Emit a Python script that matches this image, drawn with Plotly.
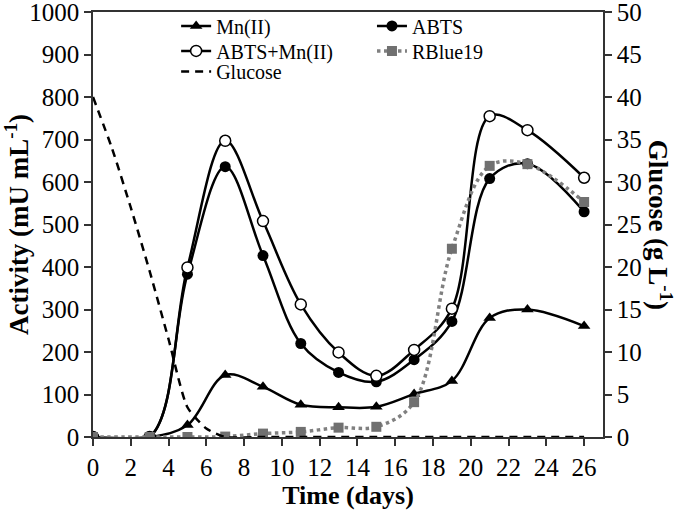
import plotly.graph_objects as go

days = [0, 3, 5, 7, 9, 11, 13, 15, 17, 19, 21, 23, 26]
mn = [0, 0, 28, 146, 118, 76, 70, 71, 101, 132, 280, 300, 261]
abts = [0, 0, 383, 636, 427, 220, 152, 130, 182, 272, 608, 643, 530]
abts_mn = [0, 0, 399, 697, 508, 312, 199, 144, 205, 302, 755, 722, 610]
rblue = [0, 0, 0, 1, 8, 12, 22, 24, 82, 443, 638, 642, 553]

glu_days = [0, 1, 2, 3, 4, 5, 6, 7, 9, 11, 13, 15, 17, 19, 21, 23, 26]
glucose = [40, 34, 27, 19.5, 11.5, 3.5, 1, 0, 0, 0, 0, 0, 0, 0, 0, 0, 0]

x_ticks = list(range(0, 27, 2))

FONT = "Liberation Serif"
fig = go.Figure()

fig.add_trace(go.Scatter(
    x=glu_days, y=glucose, name="Glucose", yaxis="y2", mode="lines",
    line=dict(color="black", width=2.5, dash="8px,6px", shape="spline", smoothing=0.6),
    legend="legend5"))
fig.add_trace(go.Scatter(
    x=days, y=mn, name="Mn(II)", mode="lines+markers",
    line=dict(color="black", width=2.5, shape="spline", smoothing=1),
    marker=dict(symbol="triangle-up", size=11, color="black"),
    legend="legend"))
fig.add_trace(go.Scatter(
    x=days, y=abts, name="ABTS", mode="lines+markers",
    line=dict(color="black", width=2.5, shape="spline", smoothing=1),
    marker=dict(symbol="circle", size=11, color="black"),
    legend="legend2"))
fig.add_trace(go.Scatter(
    x=days, y=abts_mn, name="ABTS+Mn(II)", mode="lines+markers",
    line=dict(color="black", width=2.5, shape="spline", smoothing=1),
    marker=dict(symbol="circle", size=11, color="white", line=dict(color="black", width=1.5)),
    legend="legend3"))
fig.add_trace(go.Scatter(
    x=days, y=rblue, name="RBlue19", mode="lines+markers",
    line=dict(color="#808080", width=3.5, dash="dot", shape="spline", smoothing=1),
    marker=dict(symbol="square", size=10, color="#707070"),
    legend="legend4"))

axis_common = dict(
    showgrid=False, zeroline=False, showline=True, linecolor="#333333", linewidth=1.5,
    ticks="outside", ticklen=7, tickcolor="#333333", tickwidth=1.5,
    tickfont=dict(family=FONT, size=25, color="black"),
    ticklabeloverflow="allow", automargin=False,
)


def leg(x, y):
    return dict(orientation="h", x=x, y=y, xanchor="left", yanchor="top",
                font=dict(family=FONT, size=20, color="black"),
                bgcolor="rgba(0,0,0,0)", borderwidth=0)


fig.update_layout(
    width=680, height=512,
    margin=dict(l=93, r=77, t=12, b=75, autoexpand=False),
    paper_bgcolor="white", plot_bgcolor="white",
    font=dict(family=FONT, color="black"),
    xaxis=dict(range=[0, 27], tickvals=x_ticks, mirror=True,
               title=dict(text="<b>Time (days)</b>", font=dict(family=FONT, size=26), standoff=2),
               **axis_common),
    yaxis=dict(range=[0, 1000], dtick=100,
               title=dict(text="<b>Activity (mU mL<sup>-1</sup>)</b>", font=dict(family=FONT, size=27), standoff=4),
               **axis_common),
    yaxis2=dict(range=[0, 50], dtick=5, overlaying="y", side="right", **axis_common),
    showlegend=True,
    legend=leg(0.163, 1.0132),
    legend2=leg(0.547, 1.0132),
    legend3=leg(0.163, 0.9544),
    legend4=leg(0.547, 0.9544),
    legend5=leg(0.163, 0.906),
    annotations=[dict(text="<b>Glucose (g L<sup>-1</sup>)</b>", xref="paper", yref="paper",
                      x=1.113, y=0.5, xanchor="center", yanchor="middle", textangle=90,
                      showarrow=False, font=dict(family=FONT, size=27, color="black"))],
)

fig.write_html("out.html", config={"displayModeBar": False},
               post_script="document.body.style.margin='0';")
